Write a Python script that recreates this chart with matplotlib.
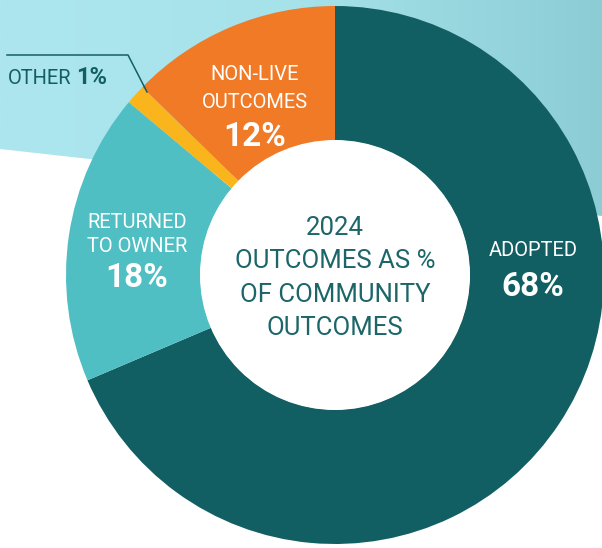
import matplotlib.pyplot as plt
import numpy as np
from matplotlib.patches import Polygon, Circle
from matplotlib.colors import LinearSegmentedColormap

# udziały wycinków (zaczynając od góry, zgodnie z ruchem wskazówek zegara)
categories = ['ADOPTED', 'RETURNED TO OWNER', 'OTHER', 'NON-LIVE OUTCOMES']
shares = [68.6, 17.5, 1.2, 12.7]
labels_pct = ['68%', '18%', '1%', '12%']
colors = ['#125f63', '#50bfc3', '#f9b51b', '#f07a26']

W, H = 602, 548
dark = '#125f63'
FONT = ['Roboto', 'DejaVu Sans']

fig = plt.figure(figsize=(W / 100, H / 100), dpi=100)
ax = fig.add_axes([0, 0, 1, 1])


def Y(y):  # współrzędna y liczona od góry obrazka
    return H - y


# jasnoturkusowe tło w górnej części
bg = Polygon([(0, Y(0)), (W, Y(0)), (W, Y(216)), (0, Y(149))], closed=True,
             facecolor='none', edgecolor='none')
ax.add_patch(bg)
cmap = LinearSegmentedColormap.from_list('bg', ['#ade6ee', '#a6e2ea', '#8ccdd5'])
grad = np.linspace(0, 1, 256).reshape(1, -1)
im = ax.imshow(grad, cmap=cmap, extent=[0, W, Y(216), Y(0)], aspect='auto', zorder=0)
im.set_clip_path(bg)

# pierścień
cx, cy, R = 335, Y(275), 269
ax.pie(shares, colors=colors, startangle=90, counterclock=False,
       radius=R, center=(cx, cy), frame=True,
       wedgeprops=dict(width=R * 0.5, edgecolor='none', linewidth=0))
ax.add_patch(Circle((cx, cy), R * 0.5 + 0.5, facecolor='white', edgecolor='none', zorder=3))
ax.set_xlim(0, W)
ax.set_ylim(0, H)
ax.set_aspect('equal')
ax.axis('off')

white = 'white'
small, big = 14.5, 24
# NON-LIVE OUTCOMES
ax.text(255, Y(75), 'NON-LIVE', color=white, fontsize=small, ha='center', va='center', family=FONT)
ax.text(255, Y(102), 'OUTCOMES', color=white, fontsize=small, ha='center', va='center', family=FONT)
ax.text(255, Y(137), labels_pct[3], color=white, fontsize=big, fontweight='bold',
        ha='center', va='center', family=FONT)

# RETURNED TO OWNER
ax.text(137, Y(222), 'RETURNED', color=white, fontsize=small, ha='center', va='center', family=FONT)
ax.text(137, Y(247), 'TO OWNER', color=white, fontsize=small, ha='center', va='center', family=FONT)
ax.text(137, Y(278), labels_pct[1], color=white, fontsize=big, fontweight='bold',
        ha='center', va='center', family=FONT)

# ADOPTED
ax.text(533, Y(250), 'ADOPTED', color=white, fontsize=small, ha='center', va='center', family=FONT)
ax.text(533, Y(287), labels_pct[0], color=white, fontsize=big, fontweight='bold',
        ha='center', va='center', family=FONT)

# OTHER z linią odniesienia
ax.plot([7, 128, 147], [Y(55), Y(55), Y(92)], color=dark, linewidth=1.1, zorder=4)
t_other = ax.text(8, Y(79), 'OTHER', color=dark, fontsize=small, ha='left', va='center', family=FONT)
fig.canvas.draw()
bb = t_other.get_window_extent().transformed(ax.transData.inverted())
ax.text(bb.x1 + 5, Y(78), labels_pct[2], color=dark, fontsize=17, fontweight='bold',
        ha='left', va='center', family=FONT)

# napis w środku
center_lines = ['2024', 'OUTCOMES AS %', 'OF COMMUNITY', 'OUTCOMES']
for i, line in enumerate(center_lines):
    ax.text(cx, Y(228 + i * 33.3), line, color='#1c6669', fontsize=18.5,
            ha='center', va='center', family=FONT, zorder=5)

fig.savefig('out.png', dpi=100)
